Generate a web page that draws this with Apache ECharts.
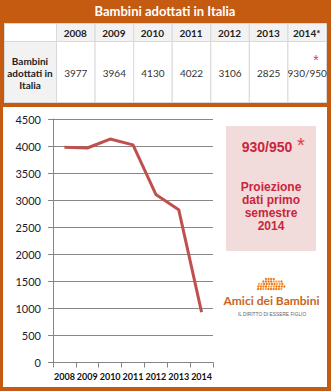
<!DOCTYPE html>
<html><head><meta charset="utf-8">
<script src="https://cdn.jsdelivr.net/npm/echarts@6/dist/echarts.min.js"></script>
<style>html,body{margin:0;padding:0;background:#c55a11;}#c{width:331px;height:391px;}</style>
</head><body><div id="c"></div>
<script>
const title = 'Bambini adottati in Italia';
const rowLabel = ['Bambini', 'adottati in', 'Italia'];
const headerYears = ['2008', '2009', '2010', '2011', '2012', '2013', '2014*'];
const tableValues = ['3977', '3964', '4130', '4022', '3106', '2825', '930/950'];
const years = ['2008', '2009', '2010', '2011', '2012', '2013', '2014'];
const adopted = [3977, 3964, 4130, 4022, 3106, 2825, 930];
const yTicks = [0, 500, 1000, 1500, 2000, 2500, 3000, 3500, 4000, 4500];
const boxValue = '930/950';
const boxNote = ['Proiezione', 'dati primo', 'semestre', '2014'];
const logoName = 'Amici dei Bambini';
const logoTag = 'IL DIRITTO DI ESSERE FIGLIO';

const ORANGE = '#c55a11';
const RED = '#c9253d';
const calibri = 'Lato, "Open Sans", sans-serif';
const arial = '"Liberation Sans", Arial, sans-serif';

const g = [];
g.push({type:'rect', shape:{x:3, y:107, width:324, height:280}, style:{fill:'#fff'}, z:0});
g.push({type:'text', style:{text:title, x:165, y:11, fill:'#fff', font:'bold 13px ' + calibri, textAlign:'center', textVerticalAlign:'middle'}});
const tX0 = 4, c0W = 52, cW = (326 - 56) / 7, hY = 23, hH = 18, dY = 41, dH = 62;
g.push({type:'rect', shape:{x:tX0, y:hY, width:322, height:hH + dH}, style:{fill:'#fff'}});
g.push({type:'rect', shape:{x:tX0 + 0.5, y:hY + 0.5, width:c0W, height:hH}, style:{fill:'#fff', stroke:'#d9d9d9', lineWidth:1}});
g.push({type:'rect', shape:{x:tX0 + 0.5, y:dY + 0.5, width:c0W, height:dH - 1}, style:{fill:'#f2f2f2', stroke:'#d9d9d9', lineWidth:1}});
rowLabel.forEach((t, i) => g.push({type:'text', style:{text:t, x:tX0 + c0W / 2, y:60.5 + i * 12.2, fill:'#222', font:'bold 10px ' + calibri, textAlign:'center', textVerticalAlign:'middle'}}));
headerYears.forEach((yr, i) => {
  const x = 56 + i * cW;
  g.push({type:'rect', shape:{x:x + 0.5, y:hY + 0.5, width:cW, height:hH}, style:{fill:'#f2f2f2', stroke:'#d9d9d9', lineWidth:1}});
  g.push({type:'rect', shape:{x:x + 0.5, y:dY + 0.5, width:cW, height:dH - 1}, style:{fill:'#fff', stroke:'#d9d9d9', lineWidth:1}});
  g.push({type:'text', style:{text:yr, x:x + cW / 2, y:32.5, fill:'#222', font:'bold 10px ' + calibri, textAlign:'center', textVerticalAlign:'middle'}});
  g.push({type:'text', style:{text:tableValues[i], x:x + cW / 2 + 0.5, y:73, fill:'#333', font:'10px ' + calibri, textAlign:'center', textVerticalAlign:'middle'}});
});
g.push({type:'text', style:{text:'*', x:316, y:59.5, fill:'#e03b4b', font:'14px ' + arial, textAlign:'center', textVerticalAlign:'middle'}});
g.push({type:'rect', shape:{x:226, y:126, width:90, height:125}, style:{fill:'#f2dcdb'}});
g.push({type:'text', style:{text:boxValue, x:267, y:147, fill:RED, font:'bold 14px ' + arial, textAlign:'center', textVerticalAlign:'middle'}});
g.push({type:'text', style:{text:'*', x:301, y:145, fill:'#e03b4b', font:'20px ' + arial, textAlign:'center', textVerticalAlign:'middle'}});
boxNote.forEach((t, i) => g.push({type:'text', style:{text:t, x:271, y:187 + i * 13.1, fill:RED, font:'bold 12px ' + arial, textAlign:'center', textVerticalAlign:'middle'}}));
// decorative logo dots
const dotRows = [[266, 276], [262, 281], [259, 284], [257, 285], [258, 284]];
dotRows.forEach((rg, r) => {
  for (let x = rg[0]; x <= rg[1]; x += 2.6) {
    g.push({type:'circle', shape:{cx:x + (r % 2) * 1.3, cy:279 + r * 2.5, r:1.15}, style:{fill:(Math.round(x) + r) % 3 === 0 ? '#f7a54a' : '#ec7a1c'}});
  }
});
g.push({type:'text', style:{text:logoName, x:271.5, y:300, fill:'#c8641e', font:'bold 12px ' + calibri, textAlign:'center', textVerticalAlign:'middle'}});
g.push({type:'text', style:{text:logoTag, x:272, y:314, fill:'#666', font:'4.8px ' + arial, textAlign:'center', textVerticalAlign:'middle'}});

const chart = echarts.init(document.getElementById('c'), null, {renderer:'svg'});
chart.setOption({
  backgroundColor: ORANGE,
  animation: false,
  grid: {left:53, right:118, top:119, bottom:28.5},
  xAxis: {
    type:'category', data:years, boundaryGap:true,
    axisLine:{lineStyle:{color:'#868686', width:1}},
    axisTick:{show:true, length:5, lineStyle:{color:'#868686'}},
    axisLabel:{color:'#111', fontFamily:calibri, fontWeight:'bold', fontSize:9, margin:9, interval:0}
  },
  yAxis: {
    type:'value', min:yTicks[0], max:yTicks[yTicks.length - 1], interval:500,
    axisLine:{show:true, lineStyle:{color:'#868686', width:1}},
    axisTick:{show:true, length:5, lineStyle:{color:'#868686'}},
    axisLabel:{color:'#1a1a2e', fontFamily:calibri, fontSize:11, margin:12, formatter:v => String(v)},
    splitLine:{lineStyle:{color:'#868686', width:1}}
  },
  series: [{
    type:'line', data:adopted, symbol:'none',
    lineStyle:{color:'#c0504d', width:3}, z:3
  }],
  graphic: {elements: g}
});
</script></body></html>
